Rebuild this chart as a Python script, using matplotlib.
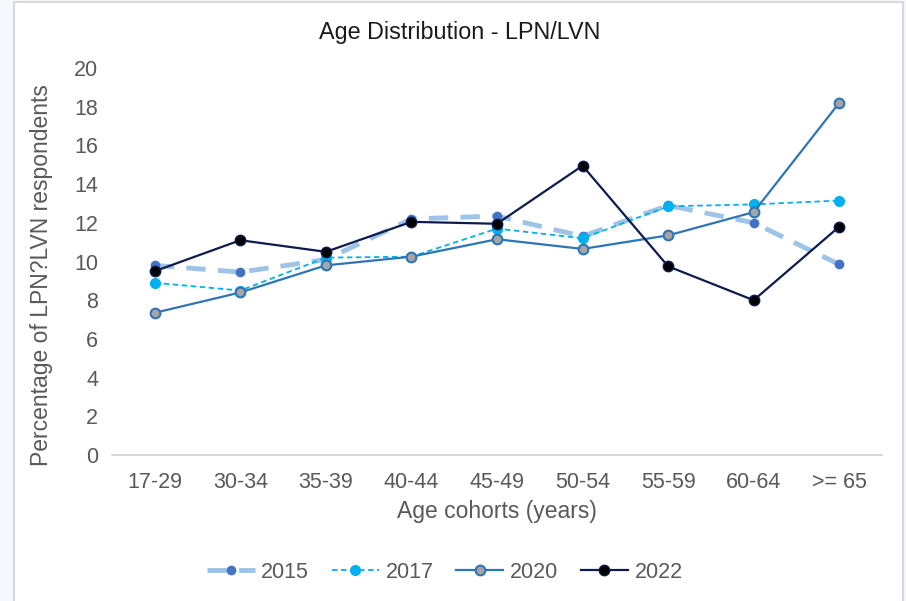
import matplotlib
matplotlib.use("Agg")
import matplotlib.pyplot as plt
from matplotlib.patches import Rectangle

plt.rcParams['font.family'] = ['Liberation Sans', 'DejaVu Sans']

# data
cohorts = ['17-29', '30-34', '35-39', '40-44', '45-49', '50-54', '55-59', '60-64', '>= 65']
y2015 = [9.8, 9.45, 10.1, 12.2, 12.35, 11.3, 12.9, 12.0, 9.85]
y2017 = [8.9, 8.5, 10.2, 10.25, 11.7, 11.2, 12.85, 12.95, 13.15]
y2020 = [7.35, 8.4, 9.8, 10.25, 11.15, 10.65, 11.35, 12.55, 18.2]
y2022 = [9.5, 11.1, 10.5, 12.05, 11.95, 14.95, 9.75, 8.0, 11.8]
yticks = [0, 2, 4, 6, 8, 10, 12, 14, 16, 18, 20]

grey = '#595959'

fig = plt.figure(figsize=(9.06, 6.01), dpi=100)
fig.patch.set_facecolor('#f5f9fd')
# white chart panel with light border
fig.patches.append(Rectangle((14 / 906, -0.01), 889 / 906, 1 - 2 / 601 + 0.01,
                             transform=fig.transFigure, facecolor='white',
                             edgecolor='#d9d9d9', linewidth=1.5, zorder=-5))

ax = fig.add_axes([112 / 906, 1 - 455 / 601, 770 / 906, 387 / 601])
ax.set_zorder(1)
ax.set_facecolor('white')
x = list(range(len(cohorts)))

ax.plot(x, y2015, color='#9dc3e6', lw=3.5, ls=(0, (4, 2.5)), marker='o', ms=6,
        mfc='#4472c4', mec='#4472c4', label='2015', zorder=2)
ax.plot(x, y2017, color='#00b0f0', lw=1.3, ls=(0, (3, 2)), marker='o', ms=7,
        mfc='#00b0f0', mec='#00b0f0', label='2017', zorder=3)
ax.plot(x, y2020, color='#2e75b6', lw=1.6, marker='o', ms=7,
        mfc='#a5a5a5', mec='#2e75b6', mew=1.5, label='2020', zorder=4)
ax.plot(x, y2022, color='#0d1b4f', lw=1.6, marker='o', ms=7.5,
        mfc='#000000', mec='#0d1b4f', label='2022', zorder=5)

ax.set_xlim(-0.5, len(cohorts) - 0.5)
ax.set_ylim(0, 20)
ax.set_yticks(yticks)
ax.set_xticks(x)
ax.set_xticklabels(cohorts)
ax.tick_params(axis='both', length=0, labelsize=15.5, colors=grey)
ax.tick_params(axis='x', pad=12)
ax.tick_params(axis='y', pad=10)
for s in ['top', 'right', 'left']:
    ax.spines[s].set_visible(False)
ax.spines['bottom'].set_color('#d0d0d0')
ax.spines['bottom'].set_linewidth(1.2)

ax.set_xlabel('Age cohorts (years)', fontsize=16.5, color=grey, labelpad=5)
ax.set_ylabel('Percentage of LPN?LVN respondents', fontsize=16.5, color=grey)
ax.yaxis.set_label_coords(-0.077, 0.465)
fig.text(460 / 906, 1 - 32 / 601, 'Age Distribution - LPN/LVN', fontsize=16.8,
         color='#1a1a1a', ha='center', va='center')

leg = ax.legend(loc='center', bbox_to_anchor=(445 / 906, 1 - 572 / 601),
                bbox_transform=fig.transFigure, ncol=4, frameon=False,
                fontsize=15.5, handlelength=2.2, columnspacing=1.05, handletextpad=0.3)
for t in leg.get_texts():
    t.set_color(grey)

fig.savefig('out.png', dpi=100, facecolor=fig.get_facecolor())
